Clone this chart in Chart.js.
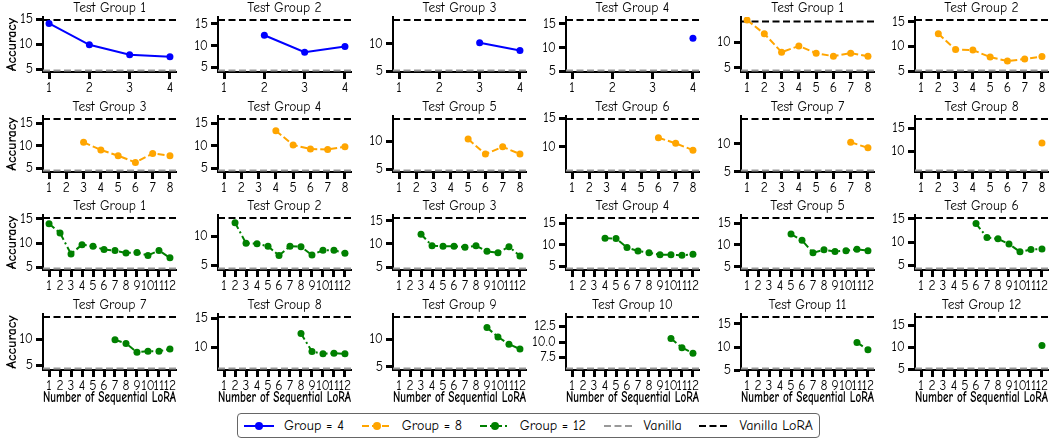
<!DOCTYPE html>
<html>
<head>
<meta charset="utf-8">
<script src="https://cdn.jsdelivr.net/npm/chart.js@4.4.0/dist/chart.umd.min.js"></script>
<style>
    body {
        margin: 0;
        background: #fff;
        width: 1055px;
        height: 440px;
        position: relative;
        overflow: hidden;
        font-family: 'Comic Sans MS', 'Comic Neue', 'Noto Sans', sans-serif;
    }
    canvas.sub {
        position: absolute;
    }
    #legend {
        position: absolute;
        left: 237px;
        top: 413px;
        width: 583px;
        height: 25px;
        border: 1px solid #666;
        border-radius: 4px;
        box-sizing: border-box;
        padding: 0 6px 0 5px;
        display: flex;
        align-items: center;
        justify-content: space-between;
    }
    #legend .item {
        display: flex;
        align-items: center;
    }
    #legend canvas {
        margin-right: 9px;
    }
    #legend span {
        font-size: 14px;
        color: #000;
        white-space: nowrap;
    }
</style>
</head>
<body>
<div id="legend"></div>
<script>
'use strict';

var FONT = "'Comic Sans MS', 'Comic Neue', 'Noto Sans', sans-serif";

// accuracy per test group, the first value belongs to LoRA number = test group number
var group4Acc = [
    [14.2, 9.9, 7.9, 7.5],
    [12.4, 8.5, 9.8],
    [10.2, 8.8],
    [12.0]
];
var group4Vanilla = [4.7, 4.3, 5.1, 5.25];
var group4Lora = [14.9, 15.9, 14.4, 15.8];
var group4YTicks = [[5, 10, 15], [5, 10, 15], [5, 10], [5, 10, 15]];

var group8Acc = [
    [14.4, 11.7, 8.1, 9.3, 7.9, 7.3, 7.9, 7.3],
    [12.6, 9.4, 9.3, 7.9, 7.1, 7.5, 8.0],
    [10.8, 9.1, 7.8, 6.3, 8.3, 7.8],
    [13.4, 10.2, 9.3, 9.2, 9.8],
    [10.4, 7.7, 9.0, 7.7],
    [11.6, 10.6, 9.4],
    [10.3, 9.3],
    [11.8]
];
var group8Vanilla = [4.5, 5.2, 4.5, 4.5, 4.75, 5.8, 5.25, 6.0];
var group8Lora = [14.1, 15.35, 16.0, 16.0, 14.0, 14.9, 14.45, 16.9];
var group8YTicks = [[5, 10], [5, 10, 15], [5, 10, 15], [5, 10, 15], [5, 10], [10, 15], [5, 10], [10, 15]];

var group12Acc = [
    [14.0, 12.1, 7.8, 9.7, 9.4, 8.7, 8.5, 8.0, 8.1, 7.5, 8.5, 7.0],
    [12.3, 8.8, 8.7, 8.3, 6.7, 8.3, 8.2, 6.8, 7.6, 7.6, 7.1],
    [12.1, 9.6, 9.5, 9.5, 9.3, 9.6, 8.4, 8.1, 9.4, 7.4],
    [11.6, 11.5, 9.4, 8.6, 8.2, 7.7, 7.7, 7.6, 7.8],
    [12.5, 11.1, 8.2, 8.9, 8.5, 8.7, 9.0, 8.7],
    [14.0, 11.0, 10.7, 9.6, 7.9, 8.4, 8.5],
    [9.9, 9.2, 7.5, 7.7, 7.7, 8.1],
    [12.4, 9.3, 8.9, 9.0, 8.9],
    [12.1, 10.4, 9.1, 8.2],
    [10.55, 9.1, 8.2],
    [11.0, 9.4],
    [10.4]
];
var group12Vanilla = [4.8, 4.5, 4.7, 4.5, 4.6, 4.3, 4.35, 6.4, 4.7, 5.76, 5.35, 5.2];
var group12Lora = [15.2, 13.1, 15.6, 16.3, 16.2, 15.2, 14.3, 15.2, 14.0, 14.0, 16.5, 16.9];
var group12YTicks = [[5, 10, 15], [5, 10], [5, 10, 15], [5, 10, 15], [5, 10, 15], [5, 10, 15],
    [5, 10], [10, 15], [5, 10], [7.5, 10, 12.5], [5, 10, 15], [5, 10, 15]];

var groups = [
    { size: 4, color: '#0000ff', dash: [], acc: group4Acc, vanilla: group4Vanilla, lora: group4Lora, yTicks: group4YTicks },
    { size: 8, color: '#ffa500', dash: [7, 3], acc: group8Acc, vanilla: group8Vanilla, lora: group8Lora, yTicks: group8YTicks },
    { size: 12, color: '#008000', dash: [7, 3, 2, 3], acc: group12Acc, vanilla: group12Vanilla, lora: group12Lora, yTicks: group12YTicks }
];

// grid of 6 x 4 small axes
var colLeft = [43, 218, 393, 566, 741, 915];
var rowTop = [17, 116, 215, 314];
var rowBottom = [72, 172, 270, 370];
var PLOT_W = 133;
var Y_AXIS_W = 43;
var RIGHT_PAD = 10;
var TITLE_H = 17;
var TEXT_SIZE = 13.5;
var LABEL_SIZE = 14;

function formatTick(ticks) {
    var decimals = ticks.some(function (t) { return t % 1 !== 0; });
    return function (value) {
        return decimals ? value.toFixed(1) : String(value);
    };
}

function createSubplot(index, group, testNo) {
    var row = Math.floor(index / 6);
    var col = index % 6;
    var plotH = rowBottom[row] - rowTop[row];
    var xAxisH = row === 3 ? 40 : 25;
    var width = Y_AXIS_W + PLOT_W + RIGHT_PAD;
    var height = TITLE_H + plotH + xAxisH;

    var canvas = document.createElement('canvas');
    canvas.className = 'sub';
    canvas.width = width;
    canvas.height = height;
    canvas.style.width = width + 'px';
    canvas.style.height = height + 'px';
    canvas.style.left = (colLeft[col] - Y_AXIS_W) + 'px';
    canvas.style.top = (rowTop[row] - TITLE_H) + 'px';
    document.body.appendChild(canvas);

    var acc = group.acc[testNo - 1];
    var vanilla = group.vanilla[testNo - 1];
    var lora = group.lora[testNo - 1];
    var yTicks = group.yTicks[testNo - 1];

    var points = [];
    for (var i = 0; i < acc.length; i++) {
        points.push({ x: testNo + i, y: acc[i] });
    }

    var xTicks = [];
    for (var n = 1; n <= group.size; n++) {
        xTicks.push(n);
    }
    var xMargin = 0.05 * (group.size - 1);
    var xMin = 1 - xMargin;
    var xMax = group.size + xMargin;

    var hi = Math.max(lora, Math.max.apply(null, acc));
    var span = hi - vanilla;
    var yMin = vanilla - 0.03 * span;
    var yMax = hi + 0.06 * span;

    var tickFont = { family: FONT, size: TEXT_SIZE, lineHeight: 1.2 };

    new Chart(canvas.getContext('2d'), {
        type: 'line',
        data: {
            datasets: [{
                data: points,
                borderColor: group.color,
                backgroundColor: group.color,
                borderWidth: 2,
                borderDash: group.dash,
                pointRadius: 3.5,
                pointBorderWidth: 0,
                pointBackgroundColor: group.color,
                tension: 0
            }, {
                data: [{ x: xMin, y: vanilla }, { x: xMax, y: vanilla }],
                borderColor: '#999999',
                borderWidth: 2,
                borderDash: [7, 3.5],
                pointRadius: 0
            }, {
                data: [{ x: xMin, y: lora }, { x: xMax, y: lora }],
                borderColor: '#000000',
                borderWidth: 2,
                borderDash: [7, 3.5],
                pointRadius: 0
            }]
        },
        options: {
            responsive: false,
            animation: false,
            events: [],
            layout: { padding: { left: 0, right: RIGHT_PAD, top: 0, bottom: 0 } },
            plugins: {
                legend: { display: false },
                tooltip: { enabled: false },
                title: {
                    display: true,
                    fullSize: false,
                    text: 'Test Group ' + testNo,
                    color: '#000',
                    font: { family: FONT, size: TEXT_SIZE, weight: 'normal', lineHeight: 1.2 },
                    padding: { top: 0, bottom: TITLE_H - TEXT_SIZE * 1.2 }
                }
            },
            scales: {
                x: {
                    type: 'linear',
                    min: xMin,
                    max: xMax,
                    afterBuildTicks: function (scale) {
                        scale.ticks = xTicks.map(function (v) { return { value: v }; });
                    },
                    afterFit: function (scale) {
                        scale.height = xAxisH;
                    },
                    grid: { drawOnChartArea: false, tickLength: 7, tickWidth: 3, tickColor: '#000' },
                    border: { color: '#000', width: 2 },
                    ticks: {
                        color: '#000',
                        font: tickFont,
                        padding: 1,
                        autoSkip: false,
                        maxRotation: 0,
                        minRotation: 0
                    },
                    title: {
                        display: row === 3,
                        text: 'Number of Sequential LoRA',
                        color: '#000',
                        font: { family: FONT, size: 15, weight: 'bold', lineHeight: 1.1 },
                        padding: { top: 0, bottom: 3.5 }
                    }
                },
                y: {
                    min: yMin,
                    max: yMax,
                    afterBuildTicks: function (scale) {
                        scale.ticks = yTicks.map(function (v) { return { value: v }; });
                    },
                    afterFit: function (scale) {
                        scale.width = Y_AXIS_W;
                    },
                    grid: { drawOnChartArea: false, tickLength: 7, tickWidth: 3, tickColor: '#000' },
                    border: { color: '#000', width: 2 },
                    ticks: {
                        color: '#000',
                        font: tickFont,
                        padding: 3,
                        callback: formatTick(yTicks)
                    },
                    title: {
                        display: col === 0,
                        text: 'Accuracy',
                        color: '#000',
                        font: { family: FONT, size: LABEL_SIZE, weight: 'bold', lineHeight: 1.2 },
                        padding: { top: 3.5, bottom: 0 }
                    }
                }
            }
        }
    });
}

function createSubplots() {
    var index = 0;
    for (var g = 0; g < groups.length; g++) {
        for (var t = 1; t <= groups[g].size; t++) {
            createSubplot(index, groups[g], t);
            index++;
        }
    }
}

function drawSwatch(canvas, color, dash, marker) {
    var ctx = canvas.getContext('2d');
    ctx.strokeStyle = color;
    ctx.lineWidth = 2;
    ctx.setLineDash(dash);
    ctx.beginPath();
    ctx.moveTo(1, 7);
    ctx.lineTo(31, 7);
    ctx.stroke();
    if (marker) {
        ctx.fillStyle = color;
        ctx.beginPath();
        ctx.arc(16, 7, 4, 0, 2 * Math.PI);
        ctx.fill();
    }
}

function createLegend() {
    var legend = document.getElementById('legend');
    var items = [
        { label: 'Group = 4', color: groups[0].color, dash: groups[0].dash, marker: true },
        { label: 'Group = 8', color: groups[1].color, dash: groups[1].dash, marker: true },
        { label: 'Group = 12', color: groups[2].color, dash: groups[2].dash, marker: true },
        { label: 'Vanilla', color: '#999999', dash: [7, 3.5], marker: false },
        { label: 'Vanilla LoRA', color: '#000000', dash: [7, 3.5], marker: false }
    ];
    for (var i = 0; i < items.length; i++) {
        var item = document.createElement('div');
        item.className = 'item';

        var c = document.createElement('canvas');
        c.width = 32;
        c.height = 14;
        item.appendChild(c);
        drawSwatch(c, items[i].color, items[i].dash, items[i].marker);

        var s = document.createElement('span');
        s.textContent = items[i].label;
        item.appendChild(s);

        legend.appendChild(item);
    }
}

createSubplots();
createLegend();
</script>
</body>
</html>
